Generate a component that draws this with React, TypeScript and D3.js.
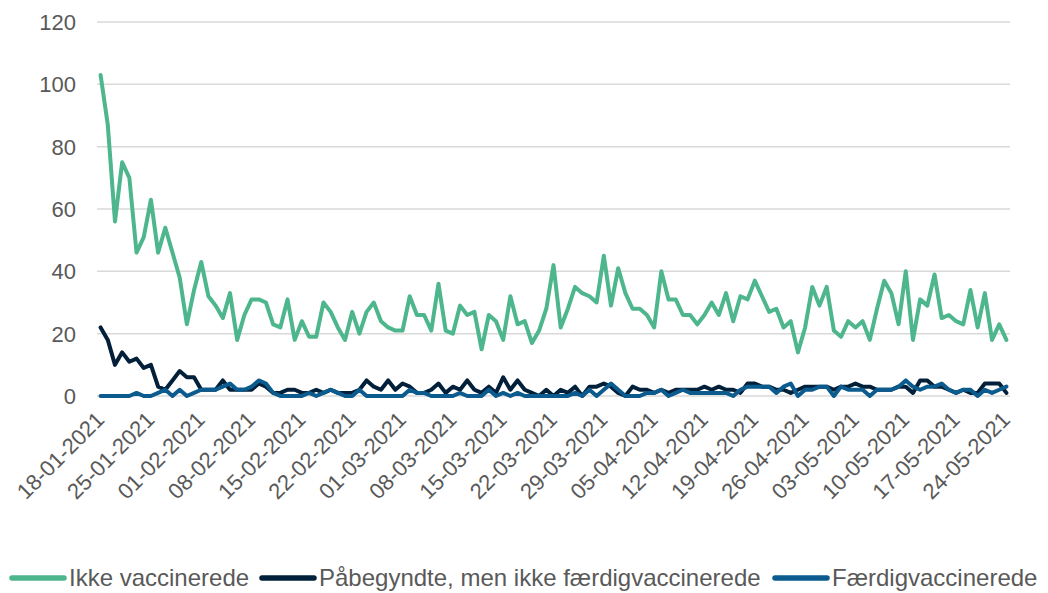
import React from "react";
import * as d3 from "d3";

const startDate = new Date(2021, 0, 18);
const nDays = 127;

const ikkeVaccinerede = [
  103, 87, 56, 75, 70, 46, 51, 63, 46, 54, 46, 38, 23, 34, 43, 32, 29, 25, 33, 18,
  26, 31, 31, 30, 23, 22, 31, 18, 24, 19, 19, 30, 27, 22, 18, 27, 20, 27, 30, 24,
  22, 21, 21, 32, 26, 26, 21, 36, 21, 20, 29, 26, 27, 15, 26, 24, 18, 32, 23, 24,
  17, 21, 28, 42, 22, 28, 35, 33, 32, 30, 45, 29, 41, 33, 28, 28, 26, 22, 40, 31,
  31, 26, 26, 23, 26, 30, 26, 33, 24, 32, 31, 37, 32, 27, 28, 22, 24, 14, 22, 35,
  29, 35, 21, 19, 24, 22, 24, 18, 28, 37, 33, 23, 40, 18, 31, 29, 39, 25, 26, 24,
  23, 34, 22, 33, 18, 23, 18,
];

const paabegyndte = [
  22, 18, 10, 14, 11, 12, 9, 10, 3, 2, 5, 8, 6, 6, 2, 2, 2, 5, 2, 2,
  2, 2, 4, 3, 1, 1, 2, 2, 1, 1, 2, 1, 2, 1, 1, 1, 2, 5, 3, 2,
  5, 2, 4, 3, 1, 1, 2, 4, 1, 3, 2, 5, 2, 1, 3, 1, 6, 2, 5, 2,
  1, 0, 2, 0, 2, 1, 3, 0, 3, 3, 4, 3, 1, 0, 3, 2, 2, 1, 2, 1,
  2, 2, 2, 2, 3, 2, 3, 2, 2, 1, 4, 4, 3, 3, 2, 2, 1, 2, 3, 3,
  3, 3, 2, 3, 3, 4, 3, 3, 2, 2, 2, 3, 3, 1, 5, 5, 3, 3, 2, 1,
  2, 1, 1, 4, 4, 4, 1,
];

const faerdigvaccinerede = [
  0, 0, 0, 0, 0, 1, 0, 0, 1, 2, 0, 2, 0, 1, 2, 2, 2, 3, 4, 2,
  2, 3, 5, 4, 1, 0, 0, 0, 0, 1, 0, 1, 2, 1, 0, 0, 2, 0, 0, 0,
  0, 0, 0, 2, 1, 1, 0, 0, 0, 0, 1, 0, 0, 0, 2, 0, 1, 0, 1, 0,
  0, 0, 0, 0, 0, 0, 1, 0, 2, 0, 2, 4, 2, 0, 0, 0, 1, 1, 2, 0,
  1, 2, 1, 1, 1, 1, 1, 1, 0, 2, 3, 3, 3, 3, 1, 3, 4, 0, 2, 2,
  3, 3, 0, 3, 2, 2, 2, 0, 2, 2, 2, 3, 5, 3, 2, 3, 3, 4, 2, 1,
  2, 2, 0, 2, 1, 2, 3,
];

const yTicks = [0, 20, 40, 60, 80, 100, 120];
const seriesNames = ["Ikke vaccinerede", "Påbegyndte, men ikke færdigvaccinerede", "Færdigvaccinerede"];
const seriesColors = ["#4DB68D", "#03203A", "#0B5B8E"];

const fmt = d3.timeFormat("%d-%m-%Y");
const dates = d3.range(nDays).map((i) => d3.timeDay.offset(startDate, i));
const labelIdx = d3.range(0, nDays, 7);

export default function App() {
  const W = 1048, H = 593;
  const x = d3.scalePoint<number>().domain(d3.range(nDays)).range([97, 1010]).padding(0.5);
  const y = d3.scaleLinear().domain([0, 120]).range([396, 22]);
  const line = d3.line<number>().x((_, i) => x(i) as number).y((v) => y(v));
  const all = [ikkeVaccinerede, paabegyndte, faerdigvaccinerede];
  const font = "'Liberation Sans', Arial, sans-serif";
  const legendX = [12, 262, 775];
  return (
    <svg width={W} height={H} style={{ position: "absolute", left: 0, top: 0, background: "#fff" }} fontFamily={font}>
      {yTicks.map((t) => (
        <g key={t}>
          <line x1={97} x2={1010} y1={y(t)} y2={y(t)} stroke="#D9D9D9" strokeWidth={1.5} />
          <text x={76} y={y(t)} dy="0.36em" textAnchor="end" fontSize={22} fill="#595959">{t}</text>
        </g>
      ))}
      {labelIdx.map((i) => {
        const px = (x(i) as number) + 5;
        const py = 421;
        return (
          <text key={i} x={px} y={py} textAnchor="end" fontSize={22} fill="#595959" transform={`rotate(-45 ${px} ${py})`}>
            {fmt(dates[i])}
          </text>
        );
      })}
      {all.map((s, k) => (
        <path key={k} d={line(s) || ""} fill="none" stroke={seriesColors[k]} strokeWidth={4} strokeLinejoin="round" strokeLinecap="round" />
      ))}
      {seriesNames.map((n, k) => (
        <g key={n}>
          <line x1={legendX[k]} x2={legendX[k] + 52} y1={578} y2={578} stroke={seriesColors[k]} strokeWidth={5.5} strokeLinecap="round" />
          <text x={legendX[k] + 57} y={586} fontSize={24} fill="#595959">{n}</text>
        </g>
      ))}
    </svg>
  );
}
